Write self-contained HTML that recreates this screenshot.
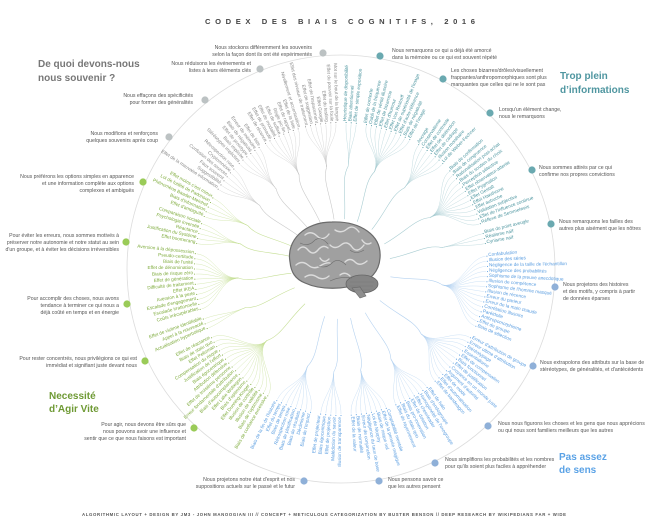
<!DOCTYPE html>
<html><head><meta charset="utf-8"><style>
html,body{margin:0;padding:0;background:#fff;}
svg{display:block;font-family:"Liberation Sans",sans-serif;}
.lab{font-size:5.2px;fill:#555;}
.e{text-anchor:end;}
#sp text{font-size:4.7px;}
#sp text.l{text-anchor:end;}
.g text{fill:#8a8a8a}.t text{fill:#4e96a0}.b text{fill:#5a9de0}.v text{fill:#7eab3c}
</style></head><body>
<svg id="s" width="652" height="522" viewBox="0 0 652 522" xmlns="http://www.w3.org/2000/svg">
<rect width="652" height="522" fill="#fff"/>
<text x="205" y="24" font-size="7.6" font-weight="bold" fill="#444" textLength="270" lengthAdjust="spacing">CODEX DES BIAIS COGNITIFS, 2016</text>
<circle cx="341" cy="269" r="214" fill="none" stroke="#dcdcdc" stroke-width="0.8"/>
<g id="fans" fill="none" stroke-width="0.35"></g>
<g id="sp" transform="translate(341,269)">
<g class="v">
<text class="l" transform="rotate(-60)" x="-148">Biais de confiance excessive</text>
<text class="l" transform="rotate(-58)" x="-148">Biais de l'optimisme</text>
<text class="l" transform="rotate(-56)" x="-148">Illusion de validité</text>
<text class="l" transform="rotate(-54)" x="-148">Illusion de contrôle</text>
<text class="l" transform="rotate(-52)" x="-148">Effet Dunning-Kruger</text>
<text class="l" transform="rotate(-50)" x="-148">Biais d'optimisme</text>
<text class="l" transform="rotate(-48)" x="-148">Effet Lake Wobegon</text>
<text class="l" transform="rotate(-46)" x="-148">Biais d'autocomplaisance</text>
<text class="l" transform="rotate(-44)" x="-148">Erreur fondamentale d'attribution</text>
<text class="l" transform="rotate(-42)" x="-148">Effet de troisième personne</text>
<text class="l" transform="rotate(-40)" x="-148">Attribution défensive</text>
<text class="l" transform="rotate(-38)" x="-148">Biais égocentrique</text>
<text class="l" transform="rotate(-36)" x="-148">Justification de l'effort</text>
<text class="l" transform="rotate(-34)" x="-148">Compensation du risque</text>
<text class="l" transform="rotate(-32)" x="-148">Effet Peltzman</text>
<text class="l" transform="rotate(-30)" x="-148">Biais de statu quo</text>
<text class="l" transform="rotate(-28)" x="-148">Effet de réactance</text>
</g>
<g class="v">
<text class="l" transform="rotate(-24)" x="-148">Actualisation hyperbolique</text>
<text class="l" transform="rotate(-22)" x="-148">Appel à la nouveauté</text>
<text class="l" transform="rotate(-20)" x="-148">Effet de victime identifiable</text>
</g>
<g class="v">
<text class="l" transform="rotate(-16)" x="-148">Coûts irrécupérables</text>
<text class="l" transform="rotate(-14)" x="-148">Escalade irrationnelle</text>
<text class="l" transform="rotate(-12)" x="-148">Escalade d'engagement</text>
<text class="l" transform="rotate(-10)" x="-148">Aversion à la perte</text>
<text class="l" transform="rotate(-8)" x="-148">Effet IKEA</text>
<text class="l" transform="rotate(-6)" x="-148">Difficulté de traitement</text>
<text class="l" transform="rotate(-4)" x="-148">Effet de génération</text>
<text class="l" transform="rotate(-2)" x="-148">Biais de risque zéro</text>
<text class="l" transform="rotate(0)" x="-148">Effet de dénomination</text>
<text class="l" transform="rotate(2)" x="-148">Biais de l'unité</text>
<text class="l" transform="rotate(4)" x="-148">Pseudo-certitude</text>
<text class="l" transform="rotate(6)" x="-148">Aversion à la dépossession</text>
</g>
<g class="v">
<text class="l" transform="rotate(10)" x="-148">Effet boomerang</text>
<text class="l" transform="rotate(12)" x="-148">Justification du Système</text>
<text class="l" transform="rotate(14)" x="-148">Réactance</text>
<text class="l" transform="rotate(16)" x="-148">Psychologie inversée</text>
<text class="l" transform="rotate(18)" x="-148">Comparaison sociale</text>
</g>
<g class="v">
<text class="l" transform="rotate(21)" x="-148">Effet d'ambiguïté</text>
<text class="l" transform="rotate(23)" x="-148">Biais d'information</text>
<text class="l" transform="rotate(25)" x="-148">Phénomène Baader-Meinhof</text>
<text class="l" transform="rotate(27)" x="-148">Loi de futilité de Parkinson</text>
<text class="l" transform="rotate(29)" x="-148">Effet moins c'est mieux</text>
</g>
<g class="g">
<text class="l" transform="rotate(33)" x="-148">Effet de la mauvaise information</text>
<text class="l" transform="rotate(35)" x="-148">Suggestibilité</text>
<text class="l" transform="rotate(37)" x="-148">Faux souvenir</text>
<text class="l" transform="rotate(39)" x="-148">Confusion des sources</text>
<text class="l" transform="rotate(41)" x="-148">Cryptomnésie</text>
<text class="l" transform="rotate(43)" x="-148">Rétrospection rose</text>
</g>
<g class="g">
<text class="l" transform="rotate(46)" x="-148">Stéréotypes implicites</text>
<text class="l" transform="rotate(48)" x="-148">Biais implicite</text>
<text class="l" transform="rotate(50)" x="-148">Effet de prototype</text>
<text class="l" transform="rotate(52)" x="-148">Biais de négativité</text>
<text class="l" transform="rotate(54)" x="-148">Erreur de mémoire</text>
<text class="l" transform="rotate(56)" x="-148">Effet de liste</text>
</g>
<g class="g">
<text class="l" transform="rotate(59)" x="-148">Effet de récence</text>
<text class="l" transform="rotate(61)" x="-148">Effet de primauté</text>
<text class="l" transform="rotate(63)" x="-148">Effet de modalité</text>
<text class="l" transform="rotate(65)" x="-148">Effet de suffixe</text>
<text class="l" transform="rotate(67)" x="-148">Règle pic-fin</text>
<text class="l" transform="rotate(69)" x="-148">Effet de rappel</text>
<text class="l" transform="rotate(71)" x="-148">Effet de la liste</text>
<text class="l" transform="rotate(73)" x="-148">Nivellement et accentuation</text>
</g>
<g class="g">
<text class="l" transform="rotate(76)" x="-148">Effet des niveaux de traitement</text>
<text class="l" transform="rotate(78)" x="-148">Effet de suggestion</text>
<text class="l" transform="rotate(80)" x="-148">Effet de l'espacement</text>
<text class="l" transform="rotate(82)" x="-148">Effet Google</text>
<text class="l" transform="rotate(84)" x="-148">Effet du testing</text>
<text class="l" transform="rotate(86)" x="-148">Effet du pouvoir sur la foule</text>
<text class="l" transform="rotate(88)" x="-148">Mot sur le bout de la langue</text>
</g>
<g class="t">
<text transform="rotate(-88)" x="148">Heuristique de disponibilité</text>
<text transform="rotate(-86)" x="148">Biais attentionnel</text>
<text transform="rotate(-84)" x="148">Effet de simple exposition</text>
</g>
<g class="t">
<text transform="rotate(-80)" x="148">Effet de contexte</text>
<text transform="rotate(-78)" x="148">Oubli de la fréquence</text>
<text transform="rotate(-76)" x="148">Effet de vérité illusoire</text>
<text transform="rotate(-74)" x="148">Effet de bizarrerie</text>
<text transform="rotate(-72)" x="148">Effet d'humour</text>
<text transform="rotate(-70)" x="148">Effet Von Restorff</text>
<text transform="rotate(-68)" x="148">Effet de supériorité de l'image</text>
<text transform="rotate(-66)" x="148">Effet d'auto-référence</text>
<text transform="rotate(-64)" x="148">Biais de négativité</text>
<text transform="rotate(-62)" x="148">Effet de l'image</text>
</g>
<g class="t">
<text transform="rotate(-58)" x="148">Ancrage</text>
<text transform="rotate(-56)" x="148">Conservatisme</text>
<text transform="rotate(-54)" x="148">Effet de contraste</text>
<text transform="rotate(-52)" x="148">Effet de distinction</text>
<text transform="rotate(-50)" x="148">Effet de cadrage</text>
<text transform="rotate(-48)" x="148">Illusion monétaire</text>
<text transform="rotate(-46)" x="148">Loi de Weber-Fechner</text>
</g>
<g class="t">
<text transform="rotate(-42)" x="148">Biais de confirmation</text>
<text transform="rotate(-40)" x="148">Biais de congruence</text>
<text transform="rotate(-38)" x="148">Rationalisation post-achat</text>
<text transform="rotate(-36)" x="148">Biais du soutien du choix</text>
<text transform="rotate(-34)" x="148">Perception sélective</text>
<text transform="rotate(-32)" x="148">Effet observateur-attente</text>
<text transform="rotate(-30)" x="148">Effet Pygmalion</text>
<text transform="rotate(-28)" x="148">Effet Gestalt</text>
<text transform="rotate(-26)" x="148">Effet Hawthorne</text>
<text transform="rotate(-24)" x="148">Effet autruche</text>
<text transform="rotate(-22)" x="148">Validation subjective</text>
<text transform="rotate(-20)" x="148">Effet de l'influence continue</text>
<text transform="rotate(-18)" x="148">Réflexe de Semmelweis</text>
</g>
<g class="t">
<text transform="rotate(-14)" x="148">Biais du point aveugle</text>
<text transform="rotate(-12)" x="148">Réalisme naïf</text>
<text transform="rotate(-10)" x="148">Cynisme naïf</text>
</g>
<g class="b">
<text transform="rotate(-5)" x="148">Confabulation</text>
<text transform="rotate(-3)" x="148">Illusion des séries</text>
<text transform="rotate(-1)" x="148">Négligence de la taille de l'échantillon</text>
<text transform="rotate(1)" x="148">Négligence des probabilités</text>
<text transform="rotate(3)" x="148">Sophisme de la preuve anecdotique</text>
<text transform="rotate(5)" x="148">Illusion de compétence</text>
<text transform="rotate(7)" x="148">Sophisme de l'homme masqué</text>
<text transform="rotate(9)" x="148">Illusion de récence</text>
<text transform="rotate(11)" x="148">Erreur du parieur</text>
<text transform="rotate(13)" x="148">Erreur de la main chaude</text>
<text transform="rotate(15)" x="148">Corrélation illusoire</text>
<text transform="rotate(17)" x="148">Paréidolie</text>
<text transform="rotate(19)" x="148">Anthropomorphisme</text>
<text transform="rotate(21)" x="148">Effet de groupe</text>
<text transform="rotate(23)" x="148">Biais de sélection</text>
</g>
<g class="b">
<text transform="rotate(28)" x="148">Erreur d'attribution de groupe</text>
<text transform="rotate(30)" x="148">Erreur ultime d'attribution</text>
<text transform="rotate(32)" x="148">Stéréotypage</text>
<text transform="rotate(34)" x="148">Essentialisme</text>
<text transform="rotate(36)" x="148">Effet de compensation</text>
<text transform="rotate(38)" x="148">Biais fonctionnel</text>
<text transform="rotate(40)" x="148">Effet de justification</text>
<text transform="rotate(42)" x="148">Croyance en un monde juste</text>
<text transform="rotate(44)" x="148">Argument d'autorité</text>
<text transform="rotate(46)" x="148">Effet de mode</text>
<text transform="rotate(48)" x="148">Effet d'automatisation</text>
<text transform="rotate(50)" x="148">Effet de bandwagon</text>
</g>
<g class="b">
<text transform="rotate(54)" x="148">Effet de halo</text>
<text transform="rotate(56)" x="148">Biais d'endogroupe</text>
<text transform="rotate(58)" x="148">Homogénéité de l'exogroupe</text>
<text transform="rotate(60)" x="148">Effet cheerleader</text>
<text transform="rotate(62)" x="148">Effet de dotation</text>
<text transform="rotate(64)" x="148">Biais pro-innovation</text>
<text transform="rotate(66)" x="148">Biais du statu quo</text>
<text transform="rotate(68)" x="148">Effet de rayonnement</text>
</g>
<g class="b">
<text transform="rotate(72)" x="148">Comptabilité mentale</text>
<text transform="rotate(74)" x="148">Effet de la pensée magique</text>
<text transform="rotate(76)" x="148">Biais de risque nul</text>
<text transform="rotate(78)" x="148">Loi de Murphy</text>
<text transform="rotate(80)" x="148">Négligence du taux de base</text>
<text transform="rotate(82)" x="148">Erreur de conjonction</text>
<text transform="rotate(84)" x="148">Biais de normalité</text>
<text transform="rotate(86)" x="148">Effet de la valeur</text>
</g>
<g class="b">
<text class="l" transform="rotate(-90)" x="-148">Illusion de transparence</text>
<text class="l" transform="rotate(-88)" x="-148">Malédiction du savoir</text>
<text class="l" transform="rotate(-86)" x="-148">Effet de projection</text>
<text class="l" transform="rotate(-84)" x="-148">Biais égocentrique</text>
<text class="l" transform="rotate(-82)" x="-148">Effet de projecteur</text>
</g>
<g class="b">
<text class="l" transform="rotate(-78)" x="-148">Biais de l'impact</text>
<text class="l" transform="rotate(-76)" x="-148">Déclinisme</text>
<text class="l" transform="rotate(-74)" x="-148">Biais de résultats</text>
<text class="l" transform="rotate(-72)" x="-148">Biais de planification</text>
<text class="l" transform="rotate(-70)" x="-148">Rétrospection rose</text>
<text class="l" transform="rotate(-68)" x="-148">Biais de temps</text>
<text class="l" transform="rotate(-66)" x="-148">Effet du temps</text>
<text class="l" transform="rotate(-64)" x="-148">Biais de la fin de l'histoire</text>
</g>
</g>

<!-- brain -->
<g>
<path d="M290,262 C286,240 305,222 332,222 C360,221 382,235 380,258 C379,272 370,280 360,283 C345,290 320,290 305,283 C295,279 291,272 290,262Z" fill="#a0a0a0" stroke="#6b6b6b" stroke-width="1.2"/>
<ellipse cx="362" cy="284" rx="16" ry="9" fill="#858585" stroke="#666" stroke-width="0.8"/>
<path d="M352,288 L360,298 L366,296 L360,287Z" fill="#8e8e8e" stroke="#666" stroke-width="0.6"/>
<g fill="none" stroke="#dcdcdc" stroke-width="1.4" stroke-linecap="round">
<path d="M298,250 q5,-6 10,0 t10,0 t10,-2"/>
<path d="M305,235 q6,-5 12,1 t12,-2"/>
<path d="M335,230 q6,4 12,-1 t12,3"/>
<path d="M296,265 q6,-5 12,0 t12,1 t10,-3"/>
<path d="M330,245 q5,5 11,0 t11,2 t12,-2"/>
<path d="M345,262 q5,-5 10,0 t12,-1"/>
<path d="M305,277 q6,-4 12,0 t12,-1"/>
<path d="M320,258 q4,6 9,1"/>
<path d="M362,240 q4,6 9,3"/>
<path d="M340,275 q5,-4 10,1"/>
</g>
<g fill="none" stroke="#6f6f6f" stroke-width="0.6">
<path d="M300,243 q8,4 14,-2 t14,3"/>
<path d="M318,266 q8,3 14,-3 t14,2"/>
<path d="M350,250 q6,5 14,0"/>
<path d="M330,281 q10,-5 22,-3"/>
</g>
<g stroke="#777" stroke-width="0.4"><path d="M350,282 h24 M349,286 h24 M352,290 h18"/></g>
</g>

<!-- dots -->
<g>
<circle cx="323" cy="53" r="3.6" fill="#bcc2c3"/><circle cx="260" cy="69" r="3.6" fill="#bcc2c3"/>
<circle cx="205" cy="100" r="3.6" fill="#bcc2c3"/><circle cx="169" cy="137" r="3.6" fill="#bcc2c3"/>
<circle cx="143" cy="182" r="3.6" fill="#9acb58"/><circle cx="126" cy="242" r="3.6" fill="#9acb58"/>
<circle cx="127" cy="304" r="3.6" fill="#9acb58"/><circle cx="145" cy="361" r="3.6" fill="#9acb58"/>
<circle cx="194" cy="428" r="3.6" fill="#9acb58"/>
<circle cx="304" cy="481" r="3.6" fill="#8fb0d8"/><circle cx="379" cy="481" r="3.6" fill="#8fb0d8"/>
<circle cx="435" cy="463" r="3.6" fill="#8fb0d8"/><circle cx="488" cy="426" r="3.6" fill="#8fb0d8"/>
<circle cx="533" cy="366" r="3.6" fill="#8fb0d8"/><circle cx="555" cy="287" r="3.6" fill="#8fb0d8"/>
<circle cx="380" cy="56" r="3.6" fill="#6aa9b0"/><circle cx="443" cy="79" r="3.6" fill="#6aa9b0"/>
<circle cx="490" cy="113" r="3.6" fill="#6aa9b0"/><circle cx="532" cy="170" r="3.6" fill="#6aa9b0"/>
<circle cx="551" cy="224" r="3.6" fill="#6aa9b0"/>
</g>

<!-- labels -->
<g class="lab">
<text class="e" x="312" y="49">Nous stockons différemment les souvenirs</text>
<text class="e" x="312" y="56">selon la façon dont ils ont été expérimentés</text>
<text class="e" x="251" y="65">Nous réduisons les événements et</text>
<text class="e" x="251" y="72">listes à leurs éléments clés</text>
<text class="e" x="193" y="97">Nous effaçons des spécificités</text>
<text class="e" x="193" y="104">pour former des généralités</text>
<text class="e" x="158" y="135">Nous modifions et renforçons</text>
<text class="e" x="158" y="142">quelques souvenirs après coup</text>
<text class="e" x="134" y="178">Nous préférons les options simples en apparence</text>
<text class="e" x="134" y="185">et une information complète aux options</text>
<text class="e" x="134" y="192">complexes et ambiguës</text>
<text class="e" x="119" y="237">Pour éviter les erreurs, nous sommes motivés à</text>
<text class="e" x="119" y="244">préserver notre autonomie et notre statut au sein</text>
<text class="e" x="119" y="251">d'un groupe, et à éviter les décisions irréversibles</text>
<text class="e" x="119" y="300">Pour accomplir des choses, nous avons</text>
<text class="e" x="119" y="307">tendance à terminer ce qui nous a</text>
<text class="e" x="119" y="314">déjà coûté en temps et en énergie</text>
<text class="e" x="137" y="360">Pour rester concentrés, nous privilégions ce qui est</text>
<text class="e" x="137" y="367">immédiat et signifiant juste devant nous</text>
<text class="e" x="186" y="426">Pour agir, nous devons être sûrs que</text>
<text class="e" x="186" y="433">nous pouvons avoir une influence et</text>
<text class="e" x="186" y="440">sentir que ce que nous faisons est important</text>
<text class="e" x="295" y="481">Nous projetons notre état d'esprit et nos</text>
<text class="e" x="295" y="488">suppositions actuels sur le passé et le futur</text>
<text x="392" y="52">Nous remarquons ce qui a déjà été amorcé</text>
<text x="392" y="59">dans la mémoire ou ce qui est souvent répété</text>
<text x="451" y="72">Les choses bizarres/drôles/visuellement</text>
<text x="451" y="79">frappantes/anthropomorphiques sont plus</text>
<text x="451" y="86">marquantes que celles qui ne le sont pas</text>
<text x="499" y="111">Lorsqu'un élément change,</text>
<text x="499" y="118">nous le remarquons</text>
<text x="539" y="169">Nous sommes attirés par ce qui</text>
<text x="539" y="176">confirme nos propres convictions</text>
<text x="559" y="223">Nous remarquons les failles des</text>
<text x="559" y="230">autres plus aisément que les nôtres</text>
<text x="563" y="286">Nous projetons des histoires</text>
<text x="563" y="293">et des motifs, y compris à partir</text>
<text x="563" y="300">de données éparses</text>
<text x="540" y="364">Nous extrapolons des attributs sur la base de</text>
<text x="540" y="371">stéréotypes, de généralités, et d'antécédents</text>
<text x="498" y="425">Nous nous figurons les choses et les gens que nous apprécions</text>
<text x="498" y="432">ou qui nous sont familiers meilleurs que les autres</text>
<text x="445" y="461">Nous simplifions les probabilités et les nombres</text>
<text x="445" y="468">pour qu'ils soient plus faciles à appréhender</text>
<text x="388" y="481">Nous pensons savoir ce</text>
<text x="388" y="488">que les autres pensent</text>
</g>

<g font-size="10" font-weight="bold">
<text x="38" y="67" fill="#777">De quoi devons-nous</text>
<text x="38" y="81" fill="#777">nous souvenir ?</text>
<text x="560" y="79" fill="#4f96a0">Trop plein</text>
<text x="560" y="93" fill="#4f96a0">d’informations</text>
<text x="49" y="399" fill="#6f9a35">Necessité</text>
<text x="49" y="412" fill="#6f9a35">d’Agir Vite</text>
<text x="559" y="460" fill="#5aa2e6">Pas assez</text>
<text x="559" y="473" fill="#5aa2e6">de sens</text>
</g>

<text x="82" y="516" font-size="4.3" font-weight="bold" fill="#555" textLength="484" lengthAdjust="spacing">ALGORITHMIC LAYOUT + DESIGN BY JM3 - JOHN MANOOGIAN III // CONCEPT + METICULOUS CATEGORIZATION BY BUSTER BENSON // DEEP RESEARCH BY WIKIPEDIANS FAR + WIDE</text>
</svg>
<script>
(function(){
var cx=341,cy=269,NS="http://www.w3.org/2000/svg";
var fans=document.getElementById("fans");
var col={g:["#c9c9c9","#8a8a8a"],t:["#a9cdd2","#4e96a0"],b:["#b5d2f0","#5a9de0"],v:["#c6df96","#7eab3c"]};
function P(a,r){var t=a*Math.PI/180;return [cx+r*Math.cos(t),cy+r*Math.sin(t)];}
function add(d,c,w){var p=document.createElementNS(NS,"path");p.setAttribute("d",d);p.setAttribute("stroke",c);p.setAttribute("stroke-width",w);fans.appendChild(p);}
var groups=document.querySelectorAll("#sp > g");
for(var i=0;i<groups.length;i++){
 var g=groups[i],c=col[g.getAttribute("class")];
 var ts=g.querySelectorAll("text"),angs=[];
 for(var j=0;j<ts.length;j++){
  var m=/rotate\(([-\d.]+)\)/.exec(ts[j].getAttribute("transform"));
  var a=parseFloat(m[1]);if(ts[j].getAttribute("class")=="l")a+=180;angs.push(a);
 }
 var s=0;for(j=0;j<angs.length;j++)s+=angs[j];var ma=s/angs.length;
 var h=P(ma,103);
 for(j=0;j<angs.length;j++){
  var e=P(angs[j],145),c1=P(ma,122),c2=P(angs[j],128);
  add("M"+h[0]+","+h[1]+" C"+c1[0]+","+c1[1]+" "+c2[0]+","+c2[1]+" "+e[0]+","+e[1],c[0],0.35);
  var d=P(angs[j],146.5);var dc=document.createElementNS(NS,"circle");
  dc.setAttribute("cx",d[0]);dc.setAttribute("cy",d[1]);dc.setAttribute("r",0.55);dc.setAttribute("fill",c[1]);fans.appendChild(dc);
 }
 var b=P(ma,50),m1=P(ma,75),m2=P(ma-4,90);
 add("M"+b[0]+","+b[1]+" C"+m1[0]+","+m1[1]+" "+m2[0]+","+m2[1]+" "+h[0]+","+h[1],c[0],0.6);
}
})();
</script>
</body></html>
